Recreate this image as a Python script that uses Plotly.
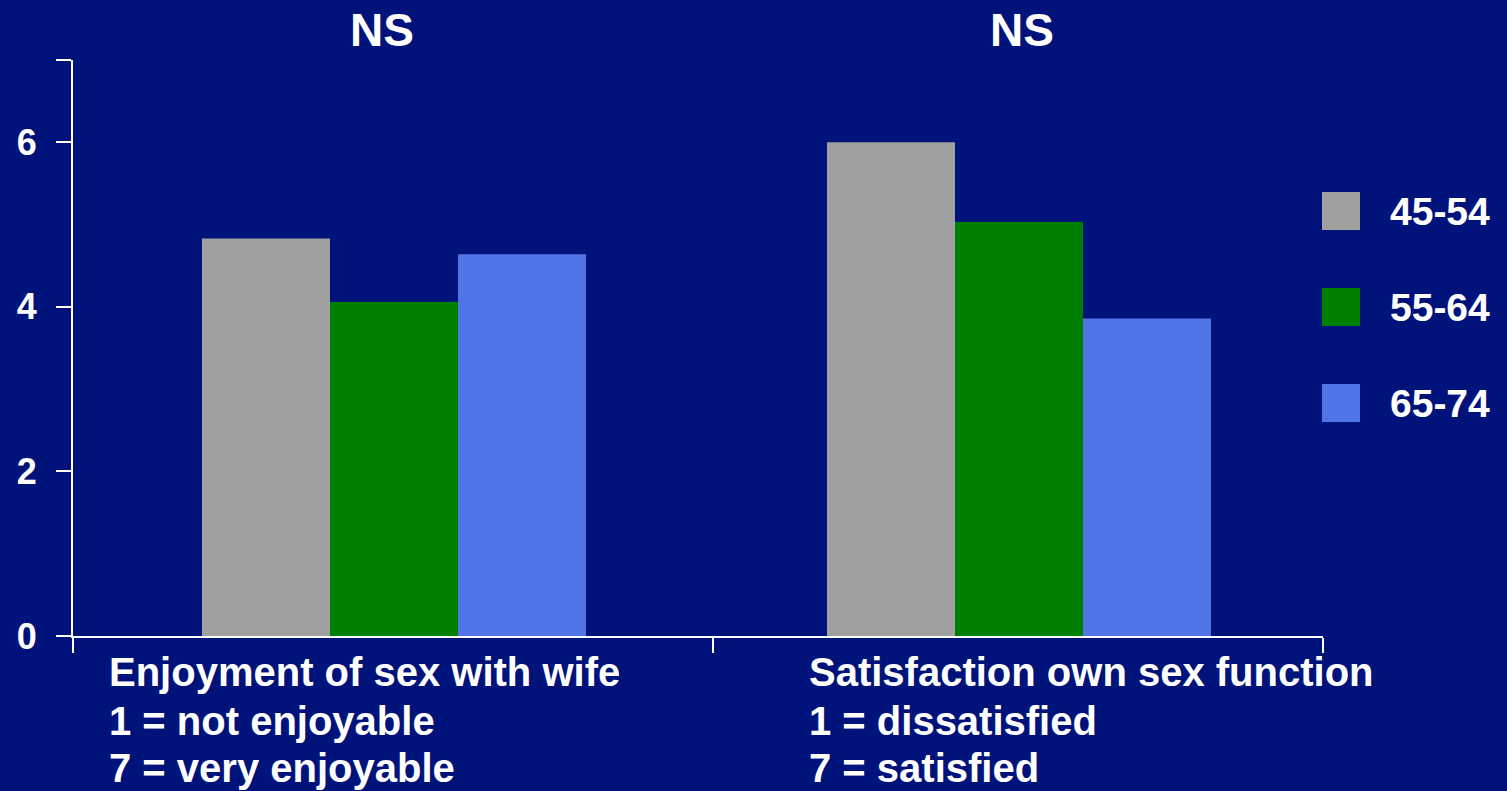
import plotly.graph_objects as go

# ---- data ----
age_groups = ["45-54", "55-64", "65-74"]
measures = ["Enjoyment of sex with wife", "Satisfaction own sex function"]
measure_notes = [
    ["1 = not enjoyable", "7 = very enjoyable"],
    ["1 = dissatisfied", "7 = satisfied"],
]
significance = ["NS", "NS"]
scores = {
    "45-54": [4.83, 6.00],
    "55-64": [4.06, 5.03],
    "65-74": [4.64, 3.86],
}
y_tick_values = [0, 2, 4, 6, 7]
y_tick_labels = ["0", "2", "4", "6", ""]

# ---- style ----
BG = "#00137A"
COLORS = {"45-54": "#A0A0A0", "55-64": "#008000", "65-74": "#5174E6"}
FONT = "Liberation Sans, Arial, sans-serif"
W, H = 1507, 791
L, R, T, B = 73, 1323, 60, 636  # plot area in pixels


def fx(px):
    return (px - L) / (R - L)


def fy(py):
    return (B - py) / (B - T)


x_pos = list(range(len(measures)))
x_range = [-0.5136, 1.4864]

fig = go.Figure()
for g in age_groups:
    fig.add_trace(go.Bar(
        x=x_pos, y=scores[g], name=g,
        marker=dict(color=COLORS[g], line=dict(width=0)),
        showlegend=False,
    ))

fig.update_layout(
    width=W, height=H,
    margin=dict(l=L, r=W - R, t=T, b=H - B, pad=0),
    paper_bgcolor=BG, plot_bgcolor=BG,
    barmode="group", bargap=0.3856, bargroupgap=0,
    font=dict(family=FONT, color="white"),
)

fig.update_xaxes(
    range=x_range, showgrid=False, zeroline=False,
    showline=True, linecolor="white", linewidth=2,
    tickmode="array", tickvals=[x_range[0] + 0.0005, 0.5104, x_range[1] - 0.0005],
    ticktext=["", "", ""], ticks="outside", ticklen=15, tickwidth=2, tickcolor="white",
)
fig.update_yaxes(
    range=[0, 7], showgrid=False, zeroline=False,
    showline=True, linecolor="white", linewidth=2,
    tickmode="array", tickvals=y_tick_values, ticktext=y_tick_labels,
    ticks="outside", ticklen=15, tickwidth=2, tickcolor="white",
    tickfont=dict(family=FONT, size=36, color="white", weight="bold"),
    ticklabelstandoff=12,
)

annotations = []
# significance marks above each group
ns_px = [382, 1022]
for label, px in zip(significance, ns_px):
    annotations.append(dict(
        x=fx(px), y=fy(30), xref="paper", yref="paper",
        text=label, showarrow=False, xanchor="center", yanchor="middle",
        font=dict(family=FONT, size=46, color="white", weight="bold"),
    ))

# category descriptions under the axis
label_left_px = [107, 807]
line_centers_px = [672, 721, 768]
for name, notes, px in zip(measures, measure_notes, label_left_px):
    for line, py in zip([name] + notes, line_centers_px):
        annotations.append(dict(
            x=fx(px), y=fy(py), xref="paper", yref="paper",
            text=line, showarrow=False, xanchor="left", yanchor="middle",
            font=dict(family=FONT, size=40, color="white", weight="bold"),
        ))

# legend: swatches and labels
shapes = []
legend_centers_px = [211, 307, 403]
for g, py in zip(age_groups, legend_centers_px):
    shapes.append(dict(
        type="rect", xref="paper", yref="paper",
        x0=fx(1322), x1=fx(1360), y0=fy(py + 19), y1=fy(py - 19),
        fillcolor=COLORS[g], line=dict(width=0),
    ))
    annotations.append(dict(
        x=fx(1388), y=fy(py), xref="paper", yref="paper",
        text=g, showarrow=False, xanchor="left", yanchor="middle",
        font=dict(family=FONT, size=39, color="white", weight="bold"),
    ))

fig.update_layout(annotations=annotations, shapes=shapes)

fig.write_html("out.html")
